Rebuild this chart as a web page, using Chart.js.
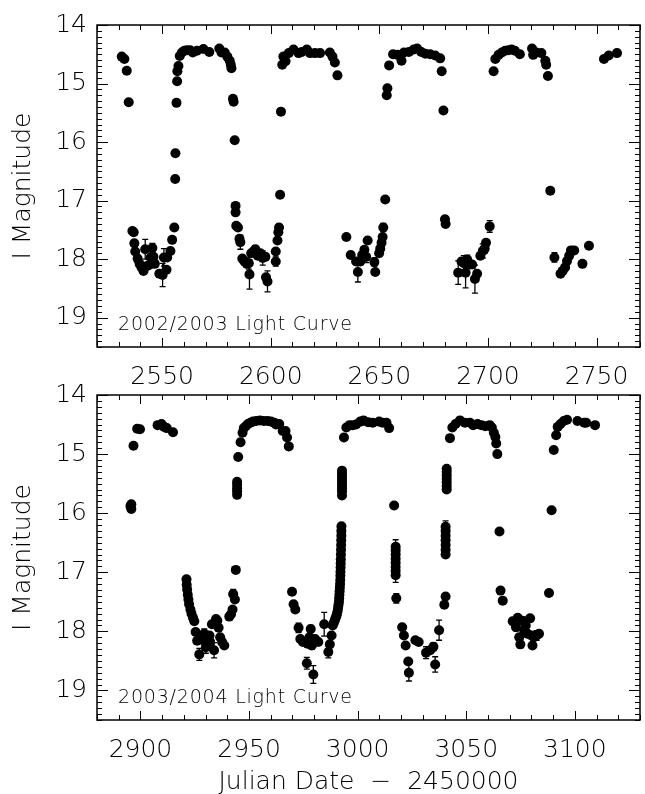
<!DOCTYPE html>
<html>
<head>
<meta charset="utf-8">
<script src="https://cdn.jsdelivr.net/npm/chart.js@4"></script>
<style>
  html, body { margin: 0; padding: 0; background: #fff; }
  #wrap { position: relative; width: 645px; height: 794px; overflow: hidden; }
  canvas { position: absolute; left: 0; }
  #top { top: 0; }
  #bottom { top: 370px; }
</style>
</head>
<body>
<div id="wrap">
  <canvas id="top" width="645" height="392"></canvas>
  <canvas id="bottom" width="645" height="424"></canvas>
</div>
<script>
// 2002/2003 season (JD - 2450000, I mag, error)
const topDays = [
  2531.4, 2532.6, 2533.7, 2534.6,
  2536.3, 2536.9, 2537.2, 2537.6, 2538.7, 2539.6, 2540.5, 2541.4, 2542.2, 2542.9, 2544.0, 2544.7, 2545.5, 2546.0, 2546.6, 2548.7, 2550.2, 2550.8, 2552.0, 2552.3, 2553.8, 2554.6, 2555.6,
  2556.0, 2556.1, 2556.6, 2556.9, 2557.0, 2557.5, 2558.1, 2559.1, 2560.2, 2561.4, 2562.9, 2564.1, 2566.0, 2569.0, 2571.7, 2576.3, 2577.3, 2578.8, 2580.0, 2581.1, 2581.6, 2581.9, 2582.6, 2582.9, 2583.4,
  2583.8, 2583.8, 2584.1, 2584.9, 2585.6, 2586.0, 2586.9, 2587.9, 2589.0, 2589.9, 2590.2, 2591.0, 2592.0, 2592.9, 2594.0, 2595.2, 2596.3, 2597.5, 2597.8, 2598.5, 2602.3, 2602.3, 2603.1, 2603.5, 2603.8, 2604.3,
  2604.7, 2605.3, 2605.8, 2606.8, 2608.3, 2610.5, 2612.8, 2614.3, 2616.6, 2618.1, 2620.4, 2622.7, 2627.2, 2628.4, 2629.5, 2630.7,
  2634.8, 2636.8, 2639.3, 2640.1, 2641.2, 2642.1, 2643.1, 2643.9, 2644.6, 2647.7, 2648.1, 2649.9, 2650.4, 2651.0, 2651.5, 2651.8, 2652.7,
  2653.4, 2653.7, 2654.5, 2656.3, 2658.3, 2660.2, 2661.3, 2663.6, 2665.8, 2667.4, 2669.3, 2671.2, 2673.4, 2675.7, 2678.0, 2678.7, 2679.5,
  2680.2, 2680.5, 2686.3, 2687.8, 2688.9, 2689.7, 2690.5, 2691.5, 2692.7, 2694.0, 2695.0, 2696.5, 2697.6, 2698.5, 2699.1, 2700.8,
  2702.6, 2703.4, 2704.9, 2706.4, 2707.9, 2709.4, 2710.9, 2712.4, 2714.7, 2720.3, 2720.8, 2722.3, 2724.6, 2726.4, 2726.8, 2727.6, 2728.7,
  2730.6, 2733.4, 2734.4, 2735.5, 2736.4, 2737.4, 2738.2, 2739.7, 2743.5, 2746.5, 2753.4, 2755.6, 2759.4
];
const topMags = [
  14.54, 14.58, 14.78, 15.32,
  17.52, 17.54, 17.73, 17.87, 17.99, 18.08, 18.14, 18.20, 17.83, 18.12, 18.10, 17.97, 17.81, 17.96, 18.08, 18.25, 18.27, 17.97, 18.18, 17.97, 17.86, 17.67, 17.46,
  16.63, 16.19, 15.33, 14.96, 14.79, 14.70, 14.53, 14.47, 14.44, 14.43, 14.43, 14.47, 14.44, 14.41, 14.46, 14.40, 14.47, 14.47, 14.54, 14.61, 14.68, 14.74, 15.26, 15.31, 15.97,
  17.09, 17.20, 17.43, 17.46, 17.65, 17.71, 17.99, 18.04, 18.08, 18.07, 18.26, 17.90, 17.87, 17.83, 17.94, 17.90, 17.98, 17.96, 18.31, 18.38, 18.04, 17.87, 17.68, 17.54, 17.46, 16.90,
  15.48, 14.68, 14.54, 14.62, 14.48, 14.42, 14.48, 14.46, 14.42, 14.48, 14.48, 14.48, 14.47, 14.54, 14.64, 14.86,
  17.62, 17.93, 18.04, 18.22, 18.04, 17.93, 17.84, 17.96, 17.68, 18.05, 18.22, 17.90, 17.82, 17.72, 17.62, 17.46, 16.98,
  15.20, 15.08, 14.69, 14.50, 14.51, 14.61, 14.47, 14.46, 14.42, 14.40, 14.46, 14.49, 14.50, 14.52, 14.57, 14.79, 15.46,
  17.32, 17.40, 18.23, 18.04, 18.07, 18.23, 18.01, 18.09, 18.09, 18.34, 18.25, 17.94, 17.86, 17.82, 17.72, 17.44,
  14.79, 14.58, 14.51, 14.47, 14.44, 14.43, 14.42, 14.44, 14.50, 14.40, 14.51, 14.47, 14.48, 14.61, 14.68, 14.87, 16.83,
  17.97, 18.25, 18.20, 18.14, 18.03, 17.94, 17.85, 17.85, 18.08, 17.77, 14.58, 14.52, 14.48
];
const topErrs = [
  0, 0, 0, 0,
  0.04, 0, 0, 0, 0, 0, 0.05, 0, 0.17, 0, 0, 0, 0.08, 0, 0, 0, 0.20, 0.15, 0, 0, 0, 0, 0.04,
  0, 0, 0, 0, 0, 0, 0, 0, 0, 0, 0, 0, 0, 0, 0, 0, 0, 0, 0, 0, 0, 0, 0, 0, 0,
  0.04, 0, 0, 0, 0, 0.12, 0, 0.06, 0, 0.10, 0.25, 0.05, 0, 0.06, 0, 0.06, 0.12, 0, 0, 0.18, 0.08, 0, 0, 0, 0.06, 0,
  0, 0, 0, 0, 0, 0, 0, 0, 0, 0, 0, 0, 0, 0, 0, 0,
  0, 0, 0, 0.17, 0.06, 0, 0, 0.10, 0, 0.07, 0, 0, 0, 0, 0, 0.07, 0.04,
  0, 0, 0, 0, 0, 0, 0, 0, 0, 0, 0, 0, 0, 0, 0, 0, 0,
  0.06, 0, 0.20, 0, 0.13, 0.26, 0.08, 0, 0, 0.24, 0, 0, 0.12, 0.08, 0, 0.10,
  0, 0, 0, 0, 0, 0, 0, 0, 0, 0, 0, 0, 0, 0, 0, 0, 0.03,
  0.08, 0, 0, 0, 0, 0, 0, 0, 0, 0, 0, 0, 0
];

// 2003/2004 season
const botDays = [
  2895.4, 2895.8, 2895.8, 2896.8, 2898.5, 2899.8, 2907.9, 2909.7, 2910.9, 2912.1, 2915.0,
  2921.2, 2921.3, 2921.5, 2921.8, 2922.1, 2922.4, 2923.0, 2923.5, 2924.2, 2924.8, 2925.4, 2926.1, 2927.1, 2927.6, 2928.8, 2929.4, 2930.1, 2930.9, 2931.8, 2932.1, 2932.9, 2933.9, 2934.8, 2935.4, 2936.0, 2936.7, 2937.6, 2938.6, 2940.9, 2941.7, 2942.4, 2942.7, 2943.5, 2943.9,
  2944.5, 2944.5, 2944.5, 2944.5, 2944.5, 2945.0, 2946.1, 2947.0, 2947.6, 2948.5, 2949.5, 2950.6, 2951.8, 2953.3, 2955.0, 2956.8, 2958.6, 2960.1, 2961.7, 2962.4, 2963.9, 2965.5, 2966.8, 2967.5, 2968.3,
  2969.8, 2970.5, 2971.3, 2972.8, 2973.6, 2974.8, 2976.6, 2976.9, 2977.8, 2978.4, 2978.9, 2979.6, 2980.4, 2981.9, 2984.6, 2986.5, 2987.2, 2988.0,
  2988.5, 2989.0, 2989.4, 2989.8, 2990.2, 2990.5, 2990.8, 2991.0, 2991.2, 2991.4, 2991.5, 2991.6, 2991.7, 2991.8, 2991.9, 2992.0, 2992.05, 2992.1, 2992.15, 2992.2, 2992.25, 2992.3, 2992.35, 2992.4, 2992.45, 2992.5, 2992.5, 2992.55,
  2992.8, 2992.8, 2992.8, 2992.8, 2992.8, 2992.8, 2992.8, 2992.8, 2992.8, 2993.7, 2994.8, 2996.3, 2997.8, 2999.3, 3001.2, 3002.7, 3004.8, 3006.9, 3009.9, 3011.5, 3013.3, 3014.5,
  3016.8, 3017.5, 3017.5, 3017.5, 3017.5, 3017.5, 3017.5, 3017.5, 3017.5, 3017.8, 3020.5, 3021.3, 3022.1, 3023.3, 3023.6, 3026.6, 3028.1, 3031.5, 3033.4, 3034.9, 3035.7, 3037.5,
  3039.9, 3040.5, 3040.5, 3040.5, 3040.5, 3040.5, 3040.5, 3040.5, 3040.5, 3041.0, 3041.0, 3041.0, 3041.0, 3041.0, 3041.0, 3041.0, 3042.5, 3043.6, 3045.1, 3047.1, 3049.4, 3051.7, 3053.2, 3055.2, 3057.0, 3058.8, 3060.8, 3061.8, 3062.7, 3063.4, 3063.8, 3064.3,
  3065.3, 3065.8, 3066.8, 3071.4, 3072.9, 3073.7, 3074.4, 3074.9, 3075.9, 3076.7, 3077.4, 3078.2, 3079.4, 3080.0, 3080.5, 3081.2, 3082.4, 3083.5, 3088.1, 3089.3, 3090.3, 3091.4, 3092.1, 3093.4, 3094.9, 3096.4, 3101.2, 3104.3, 3105.2, 3109.3
];
const botMags = [
  15.88, 15.93, 15.85, 14.86, 14.57, 14.58, 14.51, 14.49, 14.54, 14.56, 14.63,
  17.12, 17.21, 17.29, 17.38, 17.46, 17.54, 17.63, 17.70, 17.77, 17.83, 18.01, 18.16, 18.39, 18.10, 18.15, 18.04, 18.27, 18.13, 18.07, 18.18, 17.88, 18.32, 17.79, 17.82, 17.94, 18.10, 18.18, 18.24, 17.75, 17.71, 17.63, 17.37, 17.46, 16.96,
  15.47, 15.52, 15.58, 15.63, 15.69, 15.05, 14.80, 14.64, 14.56, 14.53, 14.49, 14.47, 14.45, 14.44, 14.43, 14.44, 14.44, 14.45, 14.47, 14.50, 14.49, 14.61, 14.61, 14.72, 14.87,
  17.33, 17.54, 17.63, 17.94, 18.13, 18.18, 18.54, 18.21, 18.10, 17.96, 18.24, 18.73, 18.13, 18.18, 17.88, 18.35, 18.22, 18.07,
  17.90, 17.86, 17.82, 17.78, 17.74, 17.70, 17.65, 17.60, 17.55, 17.50, 17.44, 17.38, 17.32, 17.26, 17.20, 17.13, 17.06, 16.99, 16.92, 16.85, 16.78, 16.70, 16.62, 16.54, 16.46, 16.38, 16.30, 16.22,
  15.28, 15.33, 15.38, 15.43, 15.48, 15.53, 15.58, 15.63, 15.70, 14.72, 14.55, 14.51, 14.51, 14.50, 14.45, 14.43, 14.46, 14.47, 14.45, 14.47, 14.47, 14.56,
  15.87, 16.57, 16.63, 16.70, 16.77, 16.84, 16.91, 16.98, 17.05, 17.44, 17.93, 18.07, 18.24, 18.51, 18.70, 18.15, 18.18, 18.36, 18.32, 18.26, 18.56, 17.98,
  17.55, 17.41, 16.70, 16.62, 16.54, 16.46, 16.38, 16.30, 16.23, 15.60, 15.54, 15.48, 15.42, 15.36, 15.30, 15.25, 14.73, 14.55, 14.49, 14.43, 14.47, 14.47, 14.51, 14.49, 14.51, 14.53, 14.51, 14.55, 14.64, 14.71, 14.82, 15.00,
  16.31, 17.31, 17.48, 17.83, 17.93, 17.77, 18.10, 18.22, 17.82, 17.99, 17.90, 18.04, 17.78, 18.07, 18.24, 18.10, 18.07, 18.04, 17.35, 15.95, 14.93, 14.68, 14.54, 14.49, 14.44, 14.42, 14.44, 14.47, 14.47, 14.51
];
const botErrs = [
  0, 0, 0, 0, 0, 0, 0, 0, 0, 0, 0,
  0.05, 0, 0, 0, 0, 0, 0, 0, 0, 0, 0, 0, 0.10, 0, 0, 0.08, 0.10, 0, 0, 0, 0, 0.13, 0.05, 0, 0, 0, 0, 0, 0.05, 0, 0, 0.08, 0, 0,
  0, 0, 0, 0, 0, 0, 0, 0, 0, 0, 0, 0, 0, 0, 0, 0, 0, 0, 0, 0, 0, 0, 0, 0, 0,
  0, 0, 0, 0.08, 0, 0, 0.10, 0, 0, 0.06, 0.06, 0.15, 0, 0, 0.20, 0.10, 0, 0,
  0, 0, 0, 0, 0, 0, 0, 0, 0, 0, 0, 0, 0, 0, 0, 0, 0, 0, 0, 0, 0, 0, 0, 0, 0, 0, 0, 0,
  0, 0, 0, 0, 0, 0, 0, 0, 0, 0, 0, 0, 0, 0, 0, 0, 0, 0, 0, 0, 0, 0,
  0, 0.12, 0, 0, 0, 0, 0, 0, 0.12, 0.08, 0.05, 0, 0, 0, 0.14, 0, 0, 0.10, 0, 0.07, 0.13, 0.17,
  0, 0, 0.05, 0, 0, 0, 0, 0, 0.10, 0, 0, 0, 0, 0, 0, 0, 0, 0, 0, 0, 0, 0, 0, 0, 0, 0, 0, 0, 0, 0, 0, 0,
  0, 0, 0.04, 0.06, 0.06, 0.05, 0, 0.06, 0.06, 0, 0, 0, 0.04, 0, 0.04, 0, 0.08, 0, 0.03, 0, 0, 0, 0, 0, 0, 0, 0, 0, 0, 0
];

const topXTicks = [2550, 2600, 2650, 2700, 2750];
const botXTicks = [2900, 2950, 3000, 3050, 3100];
const magTicks = [14, 15, 16, 17, 18, 19];

const FONT = 'DejaVu Sans';

// inward ticks on all four sides plus the box
const frameTicks = {
  id: 'frameTicks',
  afterDatasetsDraw(chart) {
    const { ctx, chartArea: a, scales: { x, y } } = chart;
    ctx.save();
    ctx.strokeStyle = '#000';
    ctx.lineWidth = 1;
    ctx.beginPath();
    for (let d = Math.ceil(x.min / 10) * 10; d <= x.max; d += 10) {
      const px = Math.round(x.getPixelForValue(d)) + 0.5;
      const len = d % 50 === 0 ? 9 : 5;
      ctx.moveTo(px, a.bottom); ctx.lineTo(px, a.bottom - len);
      ctx.moveTo(px, a.top); ctx.lineTo(px, a.top + len);
    }
    for (let i = 140; i <= 195; i++) {
      const py = Math.round(y.getPixelForValue(i / 10)) + 0.5;
      const len = i % 10 === 0 ? 11 : 5;
      ctx.moveTo(a.left, py); ctx.lineTo(a.left + len, py);
      ctx.moveTo(a.right, py); ctx.lineTo(a.right - len, py);
    }
    ctx.stroke();
    ctx.lineWidth = 1.5;
    ctx.strokeRect(a.left, a.top, a.width, a.height);
    ctx.restore();
  }
};

const errorBars = {
  id: 'errorBars',
  beforeDatasetsDraw(chart) {
    const { ctx, scales: { x, y } } = chart;
    ctx.save();
    ctx.strokeStyle = '#000';
    ctx.lineWidth = 1.3;
    ctx.beginPath();
    chart.data.datasets[0].data.forEach(p => {
      if (!p.err) return;
      const px = x.getPixelForValue(p.x);
      const y1 = y.getPixelForValue(p.y - p.err);
      const y2 = y.getPixelForValue(p.y + p.err);
      ctx.moveTo(px, y1); ctx.lineTo(px, y2);
      ctx.moveTo(px - 3, y1); ctx.lineTo(px + 3, y1);
      ctx.moveTo(px - 3, y2); ctx.lineTo(px + 3, y2);
    });
    ctx.stroke();
    ctx.restore();
  }
};

const seasonLabel = {
  id: 'seasonLabel',
  afterDraw(chart, args, opts) {
    const { ctx, chartArea: a } = chart;
    ctx.save();
    ctx.fillStyle = '#000';
    ctx.font = '200 19px "' + FONT + '"';
    ctx.letterSpacing = '0.8px';
    ctx.textBaseline = 'alphabetic';
    ctx.fillText(opts.text, a.left + 21, a.bottom - 17);
    ctx.restore();
  }
};

function makePanel(id, days, mags, errs, xTicks, xMin, xMax, label, padTop, xHeight, xTitle) {
  const pts = days.map((d, i) => ({ x: d, y: mags[i], err: errs[i] }));
  return new Chart(document.getElementById(id), {
    type: 'scatter',
    data: {
      datasets: [{
        data: pts,
        pointRadius: 5,
        pointBorderWidth: 0,
        pointBackgroundColor: '#000',
        pointBorderColor: '#000'
      }]
    },
    plugins: [frameTicks, errorBars, seasonLabel],
    options: {
      responsive: false,
      animation: false,
      layout: { padding: { left: 0, right: 1, top: padTop, bottom: 0 } },
      plugins: {
        legend: { display: false },
        tooltip: { enabled: false },
        seasonLabel: { text: label }
      },
      scales: {
        x: {
          type: 'linear',
          min: xMin,
          max: xMax,
          afterBuildTicks: s => { s.ticks = xTicks.map(v => ({ value: v })); },
          afterFit: s => { s.height = xHeight; },
          grid: { display: false, drawTicks: false },
          border: { display: false },
          ticks: {
            color: '#000', padding: 15, maxRotation: 0,
            callback: v => String(v),
            font: { family: FONT, size: 25, weight: '200' }
          },
          title: {
            display: !!xTitle,
            text: xTitle || '',
            color: '#000',
            font: { family: FONT, size: 25, weight: '200', lineHeight: 1 },
            padding: { top: 0, bottom: -1 }
          }
        },
        y: {
          type: 'linear',
          reverse: true,
          min: 14,
          max: 19.5,
          afterBuildTicks: s => { s.ticks = magTicks.map(v => ({ value: v })); },
          afterFit: s => { s.width = 97; },
          grid: { display: false, drawTicks: false },
          border: { display: false },
          ticks: { color: '#000', padding: 10, callback: v => String(v), font: { family: FONT, size: 25, weight: '200' } },
          title: {
            display: true,
            text: 'I Magnitude',
            color: '#000',
            font: { family: FONT, size: 25, weight: '200', lineHeight: 1 },
            padding: { top: 11, bottom: 0 }
          }
        }
      }
    }
  });
}

makePanel('top', topDays, topMags, topErrs, topXTicks, 2520, 2770, '2002/2003 Light Curve', 15, 45, null);
makePanel('bottom', botDays, botMags, botErrs, botXTicks, 2880, 3130, '2003/2004 Light Curve', 19, 74, 'Julian Date\u00a0\u00a0\u2212\u00a0\u00a02450000');
</script>
</body>
</html>
